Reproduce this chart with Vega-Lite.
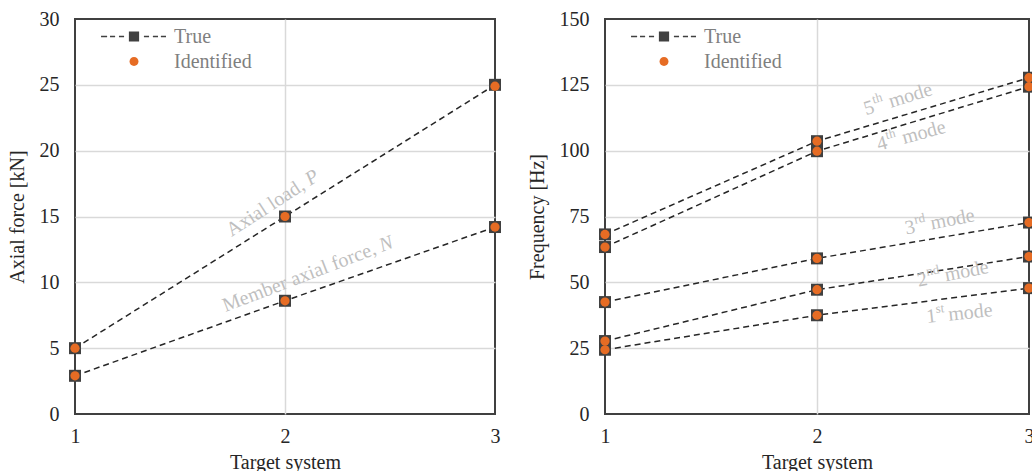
{
  "$schema": "https://vega.github.io/schema/vega-lite/v6.json",
  "padding": {"left": 6, "top": 8, "right": 0, "bottom": 0},
  "background": "white",
  "config": {
    "view": {"stroke": "#404040", "strokeWidth": 2},
    "axis": {
      "domain": false, "ticks": false, "labelOverlap": false,
      "gridColor": "#D9D9D9", "gridWidth": 1.5,
      "labelFont": "Liberation Serif", "labelFontSize": 20, "labelColor": "#262626",
      "titleFont": "Liberation Serif", "titleFontSize": 20, "titleFontWeight": "normal", "titleColor": "#262626"
    },
    "axisX": {"labelPadding": 12, "titlePadding": 6},
    "axisY": {"labelPadding": 16, "titlePadding": 12},
    "text": {"font": "Liberation Serif", "fontSize": 20, "color": "#BFBFBF", "baseline": "middle", "align": "left"},
    "point": {"filled": true, "opacity": 1},
    "legend": {
      "title": null, "orient": "top-left", "offset": 0, "padding": 5,
      "symbolSize": 4096, "clipHeight": 25, "rowPadding": 0,
      "symbolOffset": 22, "labelOffset": 8, "symbolStrokeWidth": 0,
      "labelFont": "Liberation Serif", "labelFontSize": 20, "labelColor": "#7F7F7F"
    }
  },
  "datasets": {
    "left": [
      {"quantity": "Axial load", "system": 1, "type": "True", "value": 5},
      {"quantity": "Axial load", "system": 2, "type": "True", "value": 15},
      {"quantity": "Axial load", "system": 3, "type": "True", "value": 25},
      {"quantity": "Member axial force", "system": 1, "type": "True", "value": 2.9},
      {"quantity": "Member axial force", "system": 2, "type": "True", "value": 8.6},
      {"quantity": "Member axial force", "system": 3, "type": "True", "value": 14.2},
      {"quantity": "Axial load", "system": 1, "type": "Identified", "value": 5},
      {"quantity": "Axial load", "system": 2, "type": "Identified", "value": 15},
      {"quantity": "Axial load", "system": 3, "type": "Identified", "value": 24.9},
      {"quantity": "Member axial force", "system": 1, "type": "Identified", "value": 2.9},
      {"quantity": "Member axial force", "system": 2, "type": "Identified", "value": 8.6},
      {"quantity": "Member axial force", "system": 3, "type": "Identified", "value": 14.2}
    ],
    "right": [
      {"quantity": "Mode 1", "system": 1, "type": "True", "value": 24.4},
      {"quantity": "Mode 1", "system": 2, "type": "True", "value": 37.5},
      {"quantity": "Mode 1", "system": 3, "type": "True", "value": 47.8},
      {"quantity": "Mode 2", "system": 1, "type": "True", "value": 27.7},
      {"quantity": "Mode 2", "system": 2, "type": "True", "value": 47.2},
      {"quantity": "Mode 2", "system": 3, "type": "True", "value": 59.8},
      {"quantity": "Mode 3", "system": 1, "type": "True", "value": 42.5},
      {"quantity": "Mode 3", "system": 2, "type": "True", "value": 59.1},
      {"quantity": "Mode 3", "system": 3, "type": "True", "value": 72.7},
      {"quantity": "Mode 4", "system": 1, "type": "True", "value": 63.4},
      {"quantity": "Mode 4", "system": 2, "type": "True", "value": 99.8},
      {"quantity": "Mode 4", "system": 3, "type": "True", "value": 124.3},
      {"quantity": "Mode 5", "system": 1, "type": "True", "value": 68.2},
      {"quantity": "Mode 5", "system": 2, "type": "True", "value": 103.6},
      {"quantity": "Mode 5", "system": 3, "type": "True", "value": 127.7},
      {"quantity": "Mode 1", "system": 1, "type": "Identified", "value": 24.4},
      {"quantity": "Mode 1", "system": 2, "type": "Identified", "value": 37.5},
      {"quantity": "Mode 1", "system": 3, "type": "Identified", "value": 47.8},
      {"quantity": "Mode 2", "system": 1, "type": "Identified", "value": 27.7},
      {"quantity": "Mode 2", "system": 2, "type": "Identified", "value": 47.2},
      {"quantity": "Mode 2", "system": 3, "type": "Identified", "value": 59.8},
      {"quantity": "Mode 3", "system": 1, "type": "Identified", "value": 42.5},
      {"quantity": "Mode 3", "system": 2, "type": "Identified", "value": 59.1},
      {"quantity": "Mode 3", "system": 3, "type": "Identified", "value": 72.7},
      {"quantity": "Mode 4", "system": 1, "type": "Identified", "value": 63.4},
      {"quantity": "Mode 4", "system": 2, "type": "Identified", "value": 99.8},
      {"quantity": "Mode 4", "system": 3, "type": "Identified", "value": 124.3},
      {"quantity": "Mode 5", "system": 1, "type": "Identified", "value": 68.2},
      {"quantity": "Mode 5", "system": 2, "type": "Identified", "value": 103.6},
      {"quantity": "Mode 5", "system": 3, "type": "Identified", "value": 127.7}
    ],
    "leftNotes": [
      {"note": "P", "system": 2.105, "value": 17.7},
      {"note": "N", "system": 2.452, "value": 12.73}
    ],
    "rightNotes": [
      {"note": "5th", "system": 2.223, "value": 115.6},
      {"note": "4th", "system": 2.284, "value": 102.2},
      {"note": "3rd", "system": 2.416, "value": 70.4},
      {"note": "2nd", "system": 2.473, "value": 50.6},
      {"note": "1st", "system": 2.516, "value": 36.8}
    ]
  },
  "bounds": "flush",
  "spacing": 110,
  "resolve": {"scale": {"color": "independent", "x": "independent", "y": "independent"}, "legend": {"color": "independent"}},
  "hconcat": [
    {
      "width": 420, "height": 395,
      "encoding": {
        "x": {"field": "system", "type": "quantitative", "title": "Target system",
              "scale": {"domain": [1, 3], "nice": false, "zero": false},
              "axis": {"tickCount": 3, "grid": true, "labelFlush": false,
                       "labelExpr": "datum.value % 1 == 0 ? format(datum.value, 'd') : ''",
                       "gridColor": {"condition": {"test": "datum.value != 2", "value": "transparent"}, "value": "#D9D9D9"}}},
        "y": {"field": "value", "type": "quantitative", "title": "Axial force [kN]",
              "scale": {"domain": [0, 30], "nice": false},
              "axis": {"values": [0, 5, 10, 15, 20, 25, 30],
                       "gridColor": {"condition": {"test": "datum.value == 0 || datum.value == 30", "value": "transparent"}, "value": "#D9D9D9"}}}
      },
      "layer": [
        {"data": {"name": "left"}, "transform": [{"filter": "datum.type == 'True'"}],
         "mark": {"type": "line", "strokeDash": [6, 4], "strokeWidth": 1.5, "color": "#262626"},
         "encoding": {"detail": {"field": "quantity"}}},
        {"data": {"name": "left"}, "transform": [{"filter": "datum.type == 'True'"}],
         "mark": {"type": "point", "shape": "square", "size": 144},
         "encoding": {"color": {"field": "type", "type": "nominal", "scale": {"domain": ["True", "Identified"], "range": ["#404040", "#E66C24"]},
           "legend": {"encode": {"symbols": {"update": {
              "shape": {"signal": "datum.value === 'True' ? 'M-1.03,-0.023H-0.84V0.023H-1.03Z M-0.75,-0.023H-0.59V0.023H-0.75Z M-0.47,-0.023H-0.31V0.023H-0.47Z M0.31,-0.023H0.47V0.023H0.31Z M0.59,-0.023H0.75V0.023H0.59Z M0.84,-0.023H1.0V0.023H0.84Z M-0.16,-0.16H0.16V0.16H-0.16Z' : 'M0.14,0A0.14,0.14,0,1,1,-0.14,0A0.14,0.14,0,1,1,0.14,0Z'"},
              "size": {"value": 4096}, "opacity": {"value": 1}, "strokeWidth": {"value": 0}}}}}}}},
        {"data": {"name": "left"}, "transform": [{"filter": "datum.type == 'Identified'"}],
         "mark": {"type": "point", "shape": "circle", "size": 85},
         "encoding": {"color": {"field": "type", "type": "nominal", "scale": {"domain": ["True", "Identified"], "range": ["#404040", "#E66C24"]},
           "legend": {"encode": {"symbols": {"update": {
              "shape": {"signal": "datum.value === 'True' ? 'M-1.03,-0.023H-0.84V0.023H-1.03Z M-0.75,-0.023H-0.59V0.023H-0.75Z M-0.47,-0.023H-0.31V0.023H-0.47Z M0.31,-0.023H0.47V0.023H0.31Z M0.59,-0.023H0.75V0.023H0.59Z M0.84,-0.023H1.0V0.023H0.84Z M-0.16,-0.16H0.16V0.16H-0.16Z' : 'M0.14,0A0.14,0.14,0,1,1,-0.14,0A0.14,0.14,0,1,1,0.14,0Z'"},
              "size": {"value": 4096}, "opacity": {"value": 1}, "strokeWidth": {"value": 0}}}}}}}},
        {"data": {"name": "leftNotes"}, "transform": [{"filter": "datum.note == 'P'"}],
         "layer": [
           {"mark": {"type": "text", "text": "Axial load,", "angle": 327, "align": "right", "dx": -5}},
           {"mark": {"type": "text", "text": "P", "angle": 327, "fontStyle": "italic"}}
         ]},
        {"data": {"name": "leftNotes"}, "transform": [{"filter": "datum.note == 'N'"}],
         "layer": [
           {"mark": {"type": "text", "text": "Member axial force,", "angle": 339, "align": "right", "dx": -5}},
           {"mark": {"type": "text", "text": "N", "angle": 339, "fontStyle": "italic"}}
         ]}
      ]
    },
    {
      "width": 424, "height": 395,
      "encoding": {
        "x": {"field": "system", "type": "quantitative", "title": "Target system",
              "scale": {"domain": [1, 3], "nice": false, "zero": false},
              "axis": {"tickCount": 3, "grid": true, "labelFlush": false,
                       "labelExpr": "datum.value % 1 == 0 ? format(datum.value, 'd') : ''",
                       "gridColor": {"condition": {"test": "datum.value != 2", "value": "transparent"}, "value": "#D9D9D9"}}},
        "y": {"field": "value", "type": "quantitative", "title": "Frequency [Hz]",
              "scale": {"domain": [0, 150], "nice": false},
              "axis": {"values": [0, 25, 50, 75, 100, 125, 150],
                       "gridColor": {"condition": {"test": "datum.value == 0 || datum.value == 150", "value": "transparent"}, "value": "#D9D9D9"}}}
      },
      "layer": [
        {"data": {"name": "right"}, "transform": [{"filter": "datum.type == 'True'"}],
         "mark": {"type": "line", "strokeDash": [6, 4], "strokeWidth": 1.5, "color": "#262626"},
         "encoding": {"detail": {"field": "quantity"}}},
        {"data": {"name": "right"}, "transform": [{"filter": "datum.type == 'True'"}],
         "mark": {"type": "point", "shape": "square", "size": 144},
         "encoding": {"color": {"field": "type", "type": "nominal", "scale": {"domain": ["True", "Identified"], "range": ["#404040", "#E66C24"]},
           "legend": {"encode": {"symbols": {"update": {
              "shape": {"signal": "datum.value === 'True' ? 'M-1.03,-0.023H-0.84V0.023H-1.03Z M-0.75,-0.023H-0.59V0.023H-0.75Z M-0.47,-0.023H-0.31V0.023H-0.47Z M0.31,-0.023H0.47V0.023H0.31Z M0.59,-0.023H0.75V0.023H0.59Z M0.84,-0.023H1.0V0.023H0.84Z M-0.16,-0.16H0.16V0.16H-0.16Z' : 'M0.14,0A0.14,0.14,0,1,1,-0.14,0A0.14,0.14,0,1,1,0.14,0Z'"},
              "size": {"value": 4096}, "opacity": {"value": 1}, "strokeWidth": {"value": 0}}}}}}}},
        {"data": {"name": "right"}, "transform": [{"filter": "datum.type == 'Identified'"}],
         "mark": {"type": "point", "shape": "circle", "size": 85},
         "encoding": {"color": {"field": "type", "type": "nominal", "scale": {"domain": ["True", "Identified"], "range": ["#404040", "#E66C24"]},
           "legend": {"encode": {"symbols": {"update": {
              "shape": {"signal": "datum.value === 'True' ? 'M-1.03,-0.023H-0.84V0.023H-1.03Z M-0.75,-0.023H-0.59V0.023H-0.75Z M-0.47,-0.023H-0.31V0.023H-0.47Z M0.31,-0.023H0.47V0.023H0.31Z M0.59,-0.023H0.75V0.023H0.59Z M0.84,-0.023H1.0V0.023H0.84Z M-0.16,-0.16H0.16V0.16H-0.16Z' : 'M0.14,0A0.14,0.14,0,1,1,-0.14,0A0.14,0.14,0,1,1,0.14,0Z'"},
              "size": {"value": 4096}, "opacity": {"value": 1}, "strokeWidth": {"value": 0}}}}}}}},
        {"data": {"name": "rightNotes"}, "transform": [{"filter": "datum.note == '5th'"}],
         "layer": [
           {"mark": {"type": "text", "text": "5", "angle": 343}},
           {"mark": {"type": "text", "text": "th", "angle": 343, "fontSize": 13, "dx": 10.5, "dy": -7}},
           {"mark": {"type": "text", "text": "mode", "angle": 343, "dx": 26}}
         ]},
        {"data": {"name": "rightNotes"}, "transform": [{"filter": "datum.note == '4th'"}],
         "layer": [
           {"mark": {"type": "text", "text": "4", "angle": 345}},
           {"mark": {"type": "text", "text": "th", "angle": 345, "fontSize": 13, "dx": 10.5, "dy": -7}},
           {"mark": {"type": "text", "text": "mode", "angle": 345, "dx": 26}}
         ]},
        {"data": {"name": "rightNotes"}, "transform": [{"filter": "datum.note == '3rd'"}],
         "layer": [
           {"mark": {"type": "text", "text": "3", "angle": 349}},
           {"mark": {"type": "text", "text": "rd", "angle": 349, "fontSize": 13, "dx": 10.5, "dy": -7}},
           {"mark": {"type": "text", "text": "mode", "angle": 349, "dx": 26}}
         ]},
        {"data": {"name": "rightNotes"}, "transform": [{"filter": "datum.note == '2nd'"}],
         "layer": [
           {"mark": {"type": "text", "text": "2", "angle": 349}},
           {"mark": {"type": "text", "text": "nd", "angle": 349, "fontSize": 13, "dx": 10.5, "dy": -7}},
           {"mark": {"type": "text", "text": "mode", "angle": 349, "dx": 28}}
         ]},
        {"data": {"name": "rightNotes"}, "transform": [{"filter": "datum.note == '1st'"}],
         "layer": [
           {"mark": {"type": "text", "text": "1", "angle": 354}},
           {"mark": {"type": "text", "text": "st", "angle": 354, "fontSize": 13, "dx": 10, "dy": -7}},
           {"mark": {"type": "text", "text": "mode", "angle": 354, "dx": 22}}
         ]}
      ]
    }
  ]
}
